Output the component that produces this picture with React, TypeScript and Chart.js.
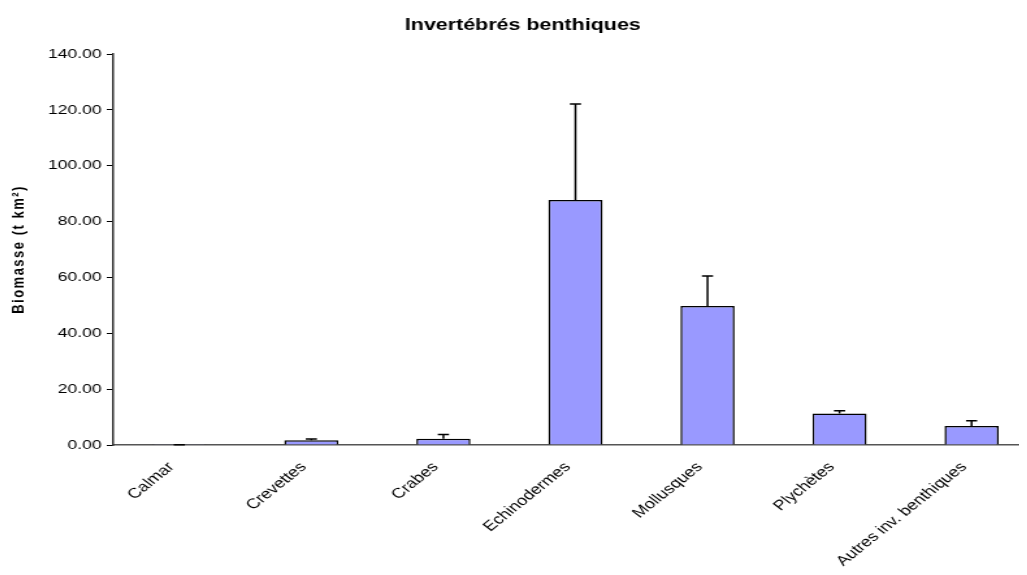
import React, { useEffect, useRef } from "react";
import { Chart, registerables } from "chart.js";

Chart.register(...registerables);

const categories = [
  "Calmar",
  "Crevettes",
  "Crabes",
  "Echinodermes",
  "Mollusques",
  "Plychètes",
  "Autres inv. benthiques",
];
const biomass = [0.05, 1.7, 2.25, 87.7, 49.8, 11.3, 6.8];
const errorUpper = [0.05, 0.45, 1.55, 34.4, 10.7, 1.0, 1.9];
const yTicks = [0, 20, 40, 60, 80, 100, 120, 140];
const chartTitle = "Invertébrés benthiques";
const yTitle = "Biomasse (t km²)";

const FONT = "'Liberation Sans', Arial, sans-serif";

const errorBarPlugin = {
  id: "errorBars",
  afterDatasetsDraw(chart: any) {
    const meta = chart.getDatasetMeta(0);
    const yScale = chart.scales.y;
    const ctx = chart.ctx;
    ctx.save();
    ctx.strokeStyle = "#000";
    ctx.lineWidth = 1.5;
    meta.data.forEach((bar: any, i: number) => {
      const x = bar.x;
      const yTop = yScale.getPixelForValue(biomass[i] + errorUpper[i]);
      const yBase = yScale.getPixelForValue(biomass[i]);
      ctx.beginPath();
      ctx.moveTo(x, yBase);
      ctx.lineTo(x, yTop);
      ctx.moveTo(x - 4.3, yTop);
      ctx.lineTo(x + 4.3, yTop);
      ctx.stroke();
    });
    ctx.restore();
  },
};

const yTitlePlugin = {
  id: "yTitleDraw",
  afterDraw(chart: any) {
    const ctx = chart.ctx;
    const area = chart.chartArea;
    ctx.save();
    ctx.translate(8.5, (area.top + area.bottom) / 2);
    ctx.rotate(-Math.PI / 2);
    ctx.font = `bold 13px ${FONT}`;
    try {
      (ctx as any).letterSpacing = "1.5px";
    } catch (e) {}
    ctx.fillStyle = "#000";
    ctx.textAlign = "center";
    ctx.textBaseline = "middle";
    ctx.fillText(yTitle, 0, 0);
    ctx.restore();
  },
};

export default function App() {
  const ref = useRef<HTMLCanvasElement | null>(null);
  useEffect(() => {
    if (!ref.current) return;
    const chart = new Chart(ref.current, {
      type: "bar",
      data: {
        labels: categories,
        datasets: [
          {
            data: biomass,
            backgroundColor: "#9999FF",
            borderColor: "#000000",
            borderWidth: 1.5,
            barPercentage: 0.41,
            categoryPercentage: 1,
          },
        ],
      },
      options: {
        animation: false,
        responsive: false,
        maintainAspectRatio: false,
        layout: { padding: { left: 0, right: 8, top: 0, bottom: 0 } },
        plugins: {
          legend: { display: false },
          tooltip: { enabled: false },
          title: {
            display: true,
            text: chartTitle,
            color: "#000",
            font: { family: FONT, size: 16.5, weight: "bold" },
            padding: { top: 8, bottom: 18.2 },
          },
        },
        scales: {
          x: {
            grid: { display: false },
            border: { display: true, color: "#555", width: 1.5 },
            ticks: {
              color: "#000",
              minRotation: 46,
              maxRotation: 46,
              autoSkip: false,
              padding: 6,
              labelOffset: -6,
              font: { family: FONT, size: 14 },
            },
            afterFit(scale: any) {
              scale.height = 130;
            },
          },
          y: {
            min: 0,
            max: 140,
            afterBuildTicks(scale: any) {
              scale.ticks = yTicks.map((v) => ({ value: v }));
            },
            grid: {
              display: true,
              drawOnChartArea: false,
              drawTicks: true,
              tickLength: 5,
              color: "#000",
            },
            border: { display: true, color: "#333", width: 1.5 },
            ticks: {
              color: "#000",
              padding: 4,
              font: { family: FONT, size: 13.5 },
              callback: (v: any) => Number(v).toFixed(2),
            },
            afterFit(scale: any) {
              scale.width = 81;
            },
          },
        },
      },
      plugins: [errorBarPlugin, yTitlePlugin],
    });
    return () => chart.destroy();
  }, []);
  return (
    <div style={{ width: 1019, height: 567, overflow: "hidden", background: "#fff" }}>
      <div style={{ width: 800, height: 567, transform: "scaleX(1.3)", transformOrigin: "0 0" }}>
        <canvas ref={ref} width={800} height={567} style={{ display: "block" }} />
      </div>
    </div>
  );
}
